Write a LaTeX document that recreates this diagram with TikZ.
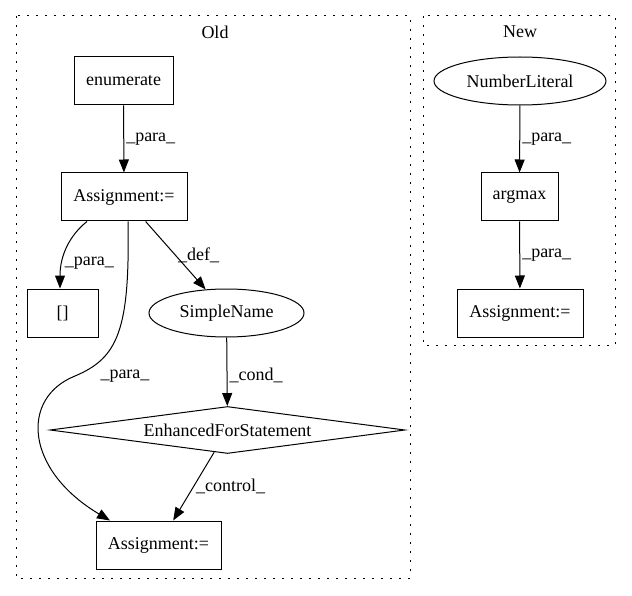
\documentclass[tikz,border=0pt]{standalone}
\usepackage{fontspec}
\setmainfont{Liberation Serif}
\usetikzlibrary{shapes.geometric,arrows.meta}

\begin{document}
\begin{tikzpicture}[x=1pt,y=-1pt,
    font=\fontsize{18}{22}\selectfont,
    box/.style={rectangle,draw,line width=1pt,minimum height=48pt,inner sep=2pt},
    oval/.style={ellipse,draw,line width=1pt,minimum height=48pt,inner sep=2pt},
    cluster/.style={draw,line width=1pt,dash pattern=on 2pt off 7pt},
    edge/.style={line width=1pt,-{Triangle[length=13pt,width=10pt]}},
    lbl/.style={anchor=west,inner sep=2pt}]
\useasboundingbox (0,0) rectangle (632,596);
\draw[cluster] (16,16) rectangle (410,578);
\draw[cluster] (423,16) rectangle (615,345);
\path
(215,32) node (old) {Old}
(520,32) node (new) {New}
(123.5,81) node[box,minimum width=99pt] (enum) {enumerate}
(124,197) node[box,minimum width=126pt] (asg1) {Assignment:=}
(62.5,313) node[box,minimum width=71pt] (brk) {[]}
(226.5,313) node[oval,minimum width=155pt] (sn) {SimpleName}
(227.5,430) node[diamond,draw,line width=1pt,aspect=7.5,inner sep=0pt,minimum width=355pt,minimum height=47pt] (efs) {EnhancedForStatement}
(158.5,545) node[box,minimum width=125pt] (asg2) {Assignment:=}
(520,81) node[oval,minimum width=172pt] (nl) {NumberLiteral}
(519.5,197) node[box,minimum width=77pt] (amax) {argmax}
(520,313) node[box,minimum width=126pt] (asg3) {Assignment:=};

% Old
\draw[edge] (enum) -- node[lbl]{\_para\_} (asg1);
\draw[edge] ([xshift=-37pt]asg1.south) .. controls (70,235) and (60,255) .. node[lbl,pos=.72]{\_para\_} ([xshift=-2.5pt]brk.north);
\draw[edge] (asg1) -- node[lbl]{\_def\_} (sn);
\draw[edge] ([xshift=4pt]asg1.south) .. controls (130,330) and (118,358) .. (75,376) node[lbl,xshift=23pt]{\_para\_}
    .. controls (20,398) and (25,470) .. ([xshift=-48.5pt]asg2.north);
\draw[edge] (sn) -- node[lbl,pos=.55]{\_cond\_} (efs);
\draw[edge] (efs) -- node[lbl]{\_control\_} (asg2);

% New
\draw[edge] (nl) -- node[lbl]{\_para\_} (amax);
\draw[edge] (amax) -- node[lbl]{\_para\_} (asg3);
\end{tikzpicture}
\end{document}
